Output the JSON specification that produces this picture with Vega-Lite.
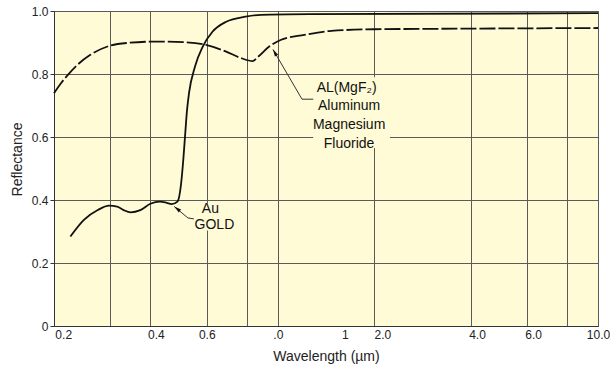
{
  "$schema": "https://vega.github.io/schema/vega-lite/v6.json",
  "width": 544,
  "height": 315,
  "autosize": {"type": "none"},
  "padding": {"left": 54, "top": 11, "right": 12, "bottom": 43},
  "background": "white",
  "config": {
    "view": {"fill": "#FFFBD6", "stroke": "#555555", "strokeWidth": 1},
    "font": "Liberation Sans",
    "axis": {
      "gridColor": "#5a5a5a",
      "gridOpacity": 1,
      "gridWidth": 1,
      "domainColor": "#333333",
      "labelColor": "#222222",
      "titleColor": "#222222",
      "labelFont": "Liberation Sans",
      "titleFont": "Liberation Sans",
      "titleFontWeight": "normal",
      "labelFontSize": 12,
      "titleFontSize": 13
    }
  },
  "datasets": {
    "gold": [
      {"w": 0.225, "r": 0.284}, {"w": 0.248, "r": 0.337}, {"w": 0.274, "r": 0.368},
      {"w": 0.297, "r": 0.382}, {"w": 0.315, "r": 0.379}, {"w": 0.33, "r": 0.368},
      {"w": 0.347, "r": 0.361}, {"w": 0.372, "r": 0.368}, {"w": 0.4, "r": 0.388},
      {"w": 0.428, "r": 0.395}, {"w": 0.45, "r": 0.391}, {"w": 0.466, "r": 0.387},
      {"w": 0.486, "r": 0.395}, {"w": 0.499, "r": 0.453}, {"w": 0.507, "r": 0.53},
      {"w": 0.514, "r": 0.612}, {"w": 0.52, "r": 0.68}, {"w": 0.528, "r": 0.739},
      {"w": 0.551, "r": 0.823}, {"w": 0.583, "r": 0.887}, {"w": 0.625, "r": 0.934},
      {"w": 0.69, "r": 0.966}, {"w": 0.793, "r": 0.982}, {"w": 0.887, "r": 0.988},
      {"w": 1.27, "r": 0.99}, {"w": 10, "r": 0.993}
    ],
    "al": [
      {"w": 0.2, "r": 0.739}, {"w": 0.21, "r": 0.77}, {"w": 0.22, "r": 0.795},
      {"w": 0.235, "r": 0.826}, {"w": 0.259, "r": 0.86}, {"w": 0.297, "r": 0.889}, {"w": 0.342, "r": 0.899},
      {"w": 0.416, "r": 0.903}, {"w": 0.507, "r": 0.901}, {"w": 0.6, "r": 0.892},
      {"w": 0.69, "r": 0.871}, {"w": 0.77, "r": 0.85}, {"w": 0.834, "r": 0.841},
      {"w": 0.864, "r": 0.853}, {"w": 0.94, "r": 0.887}, {"w": 1.02, "r": 0.908},
      {"w": 1.21, "r": 0.924}, {"w": 1.47, "r": 0.937}, {"w": 2.0, "r": 0.942},
      {"w": 3.92, "r": 0.944}, {"w": 10, "r": 0.946}
    ],
    "boxes": [
      {"x1": 0.555, "x2": 0.72, "y1": 0.303, "y2": 0.39},
      {"x1": 1.29, "x2": 2.24, "y1": 0.565, "y2": 0.79}
    ],
    "leaders": [
      {"g": "gold", "w": 0.475, "r": 0.379}, {"g": "gold", "w": 0.524, "r": 0.343}, {"g": "gold", "w": 0.547, "r": 0.34},
      {"g": "al", "w": 0.966, "r": 0.878}, {"g": "al", "w": 1.19, "r": 0.72}, {"g": "al", "w": 1.29, "r": 0.72}
    ],
    "arrows": [
      {"w": 0.475, "r": 0.379, "a": 308},
      {"w": 0.966, "r": 0.878, "a": 330}
    ],
    "labels": [
      {"w": 0.616, "r": 0.37, "t": "Au"},
      {"w": 0.634, "r": 0.321, "t": "GOLD"},
      {"w": 1.64, "r": 0.756, "t": "AL(MgF₂)"},
      {"w": 1.67, "r": 0.697, "t": "Aluminum"},
      {"w": 1.67, "r": 0.638, "t": "Magnesium"},
      {"w": 1.67, "r": 0.579, "t": "Fluoride"}
    ]
  },
  "layer": [
    {
      "data": {"name": "gold"},
      "mark": {"type": "line", "color": "#111111", "strokeWidth": 1.8, "interpolate": "monotone"},
      "encoding": {
        "x": {
          "field": "w", "type": "quantitative",
          "scale": {"type": "log", "domain": [0.2, 10], "nice": false},
          "axis": {
            "values": [0.2, 0.2137, 0.3, 0.4, 0.416, 0.6, 0.8, 1, 1.62, 2, 2.12, 4, 4.19, 6, 6.27, 8, 10],
            "ticks": false,
            "labelFlush": false,
            "labelOverlap": false,
            "labelBound": false,
            "labelPadding": 3,
            "labelExpr": "datum.value == 0.2137 ? '0.2' : datum.value == 0.416 ? '0.4' : datum.value == 0.6 ? '0.6' : datum.value == 1 ? '.0' : datum.value == 1.62 ? '1' : datum.value == 2.12 ? '2.0' : datum.value == 4.19 ? '4.0' : datum.value == 6.27 ? '6.0' : datum.value == 10 ? '10.0' : ''",
            "gridOpacity": {"condition": {"test": "indexof([0.2137, 0.416, 1.62, 2.12, 4.19, 6.27], datum.value) >= 0", "value": 0}, "value": 1},
            "title": "Wavelength (µm)",
            "titleFontSize": 14,
            "titlePadding": 9
          }
        },
        "y": {
          "field": "r", "type": "quantitative",
          "scale": {"domain": [0, 1], "nice": false},
          "axis": {
            "values": [0, 0.1, 0.2, 0.3, 0.4, 0.5, 0.6, 0.7, 0.8, 0.9, 1.0],
            "tickSize": 4,
            "tickColor": "#333333",
            "labelPadding": 2,
            "labelExpr": "round(datum.value * 10) % 2 == 0 ? (datum.value == 0 ? '0' : format(datum.value, '.1f')) : ''",
            "title": "Reflectance",
            "titleFontSize": 14,
            "titleY": 148,
            "titlePadding": 7
          }
        }
      }
    },
    {
      "data": {"name": "al"},
      "mark": {"type": "line", "color": "#111111", "strokeWidth": 1.8, "interpolate": "monotone", "strokeDash": [16, 3]},
      "encoding": {
        "x": {"field": "w", "type": "quantitative"},
        "y": {"field": "r", "type": "quantitative"}
      }
    },
    {
      "data": {"name": "boxes"},
      "mark": {"type": "rect", "fill": "#FFFBD6"},
      "encoding": {
        "x": {"field": "x1", "type": "quantitative"},
        "x2": {"field": "x2"},
        "y": {"field": "y1", "type": "quantitative"},
        "y2": {"field": "y2"}
      }
    },
    {
      "data": {"name": "leaders"},
      "mark": {"type": "line", "color": "#333333", "strokeWidth": 1},
      "encoding": {
        "x": {"field": "w", "type": "quantitative"},
        "y": {"field": "r", "type": "quantitative"},
        "detail": {"field": "g"}
      }
    },
    {
      "data": {"name": "arrows"},
      "mark": {"type": "point", "shape": "M0,0L0.4,1.5L-0.4,1.5Z", "filled": true, "color": "#111111", "size": 90, "opacity": 1},
      "encoding": {
        "x": {"field": "w", "type": "quantitative"},
        "y": {"field": "r", "type": "quantitative"},
        "angle": {"field": "a", "type": "quantitative", "scale": null}
      }
    },
    {
      "data": {"name": "labels"},
      "mark": {"type": "text", "font": "Liberation Sans", "fontSize": 14, "color": "#111111", "align": "center", "baseline": "middle"},
      "encoding": {
        "x": {"field": "w", "type": "quantitative"},
        "y": {"field": "r", "type": "quantitative"},
        "text": {"field": "t"}
      }
    }
  ]
}
